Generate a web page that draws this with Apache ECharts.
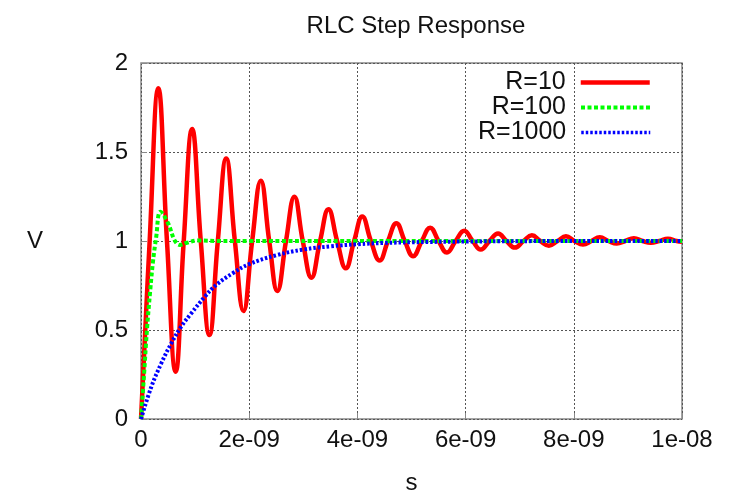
<!DOCTYPE html>
<html>
<head>
<meta charset="utf-8">
<script src="https://cdn.jsdelivr.net/npm/echarts@6/dist/echarts.min.js"></script>
<style>
html, body { margin: 0; padding: 0; background: #fff; }
#main { width: 736px; height: 492px; }
</style>
</head>
<body>
<div id="main"></div>
<script>
var seriesNames = ['R=10', 'R=100', 'R=1000'];
var yTicks = [0, 0.5, 1, 1.5, 2];

// time in ns, voltage in V
var r10_t = [0, 0.16, 0.32, 0.48, 0.64, 0.79, 0.945, 1.105, 1.265, 1.42, 1.575, 1.735, 1.895, 2.055, 2.215, 2.37, 2.52, 2.68, 2.835,
    2.99, 3.15, 3.31, 3.465, 3.625, 3.785, 3.94, 4.09, 4.25, 4.41, 4.565, 4.72, 4.875, 5.03, 5.19, 5.345, 5.5, 5.655, 5.815, 5.975,
    6.13, 6.28, 6.44, 6.6, 6.755, 6.91, 7.07, 7.225, 7.38, 7.54, 7.7, 7.855, 8.01, 8.17, 8.325, 8.48, 8.64, 8.795, 8.95, 9.11,
    9.27, 9.425, 9.58, 9.74, 9.9, 10];
var r10_v = [0, 1, 1.858, 1, 0.266, 1, 1.629, 1, 0.472, 1, 1.464, 1, 0.607, 1, 1.339, 1, 0.719, 1, 1.249,
    1, 0.794, 1, 1.178, 1, 0.847, 1, 1.137, 1, 0.89, 1, 1.10, 1, 0.915, 1, 1.075, 1, 0.935, 1, 1.058,
    1, 0.952, 1, 1.042, 1, 0.963, 1, 1.032, 1, 0.974, 1, 1.026, 1, 0.98, 1, 1.021, 1, 0.986, 1, 1.016,
    1, 0.99, 1, 1.013, 1, 0.996];

var r100_t = [0, 0.05, 0.11, 0.17, 0.22, 0.28, 0.36, 0.5, 0.62, 0.715, 0.85, 1.05, 1.4, 2, 4, 6, 8, 10];
var r100_v = [0, 0.22, 0.5, 0.72, 0.88, 1.02, 1.165, 1.10, 1.005, 0.978, 0.99, 1.003, 1.0, 1.0, 1.0, 1.0, 1.0, 1.0];

var r1000_t = [0, 0.19, 0.375, 0.56, 0.745, 0.93, 1.18, 1.39, 1.7, 2.0, 2.5, 3.0, 3.5, 4.0, 4.5, 5, 6, 7, 8, 10];
var r1000_v = [0, 0.18, 0.313, 0.425, 0.52, 0.594, 0.687, 0.753, 0.82, 0.87, 0.92, 0.952, 0.97, 0.982, 0.989, 0.993, 0.997, 0.999, 1.0, 1.0];

function pairs(t, v) {
    return t.map(function (x, i) { return [x, v[i]]; });
}

function sciLabel(ns) {
    if (ns === 0) return '0';
    var s = (ns * 1e-9).toExponential(0);   // e.g. "2e-9"
    var parts = s.split('e');
    var exp = parseInt(parts[1], 10);
    var sign = exp < 0 ? '-' : '+';
    var abs = Math.abs(exp);
    return parts[0] + 'e' + sign + (abs < 10 ? '0' + abs : abs);
}

var font = '"Liberation Sans", Arial, Helvetica, sans-serif';
var gridLine = { show: true, lineStyle: { color: '#555', type: [2, 2], width: 1 } };
var legendWidths = [4.5, 4, 3.5];
var legendDash = ['solid', [4, 2.5], [2.5, 2]];

var myChart = echarts.init(document.getElementById('main'));

var option = {
    backgroundColor: '#fff',
    animation: false,
    textStyle: { fontFamily: font },
    title: {
        text: 'RLC Step Response',
        left: 411,
        top: 9,
        textAlign: 'center',
        textStyle: { fontSize: 24, fontWeight: 'normal', color: '#111', fontFamily: font }
    },
    legend: seriesNames.map(function (n, i) {
        return {
            data: [n],
            orient: 'vertical',
            align: 'right',
            right: 84,
            top: 70 + i * 25,
            padding: 0,
            itemWidth: 69,
            itemHeight: 12,
            selectedMode: false,
            itemStyle: { opacity: 0 },
            lineStyle: { width: legendWidths[i], type: legendDash[i] },
            textStyle: { fontSize: 25, color: '#111', fontFamily: font, padding: [0, 10, 0, 0] }
        };
    }),
    grid: {
        left: 141,
        right: 54,
        top: 63,
        bottom: 73,
        outerBoundsMode: 'none',
        containLabel: false,
        show: true,
        borderColor: '#888',
        borderWidth: 1.5
    },
    xAxis: {
        type: 'value',
        min: 0,
        max: 10,
        interval: 2,
        name: 's',
        nameLocation: 'middle',
        nameGap: 52,
        nameTextStyle: { fontSize: 24, color: '#111', fontFamily: font },
        axisLine: { show: false },
        axisTick: { show: true, inside: true, length: 6, lineStyle: { color: '#888' } },
        axisLabel: { fontSize: 24, color: '#111', margin: 9, formatter: sciLabel },
        splitLine: gridLine
    },
    yAxis: {
        type: 'value',
        min: yTicks[0],
        max: yTicks[yTicks.length - 1],
        interval: 0.5,
        name: 'V',
        nameLocation: 'middle',
        nameRotate: 0,
        nameGap: 98,
        nameTextStyle: { fontSize: 24, color: '#111', fontFamily: font },
        axisLine: { show: false },
        axisTick: { show: true, inside: true, length: 6, lineStyle: { color: '#888' } },
        axisLabel: { fontSize: 24, color: '#111', margin: 13 },
        splitLine: gridLine
    },
    series: [
        {
            name: seriesNames[0],
            type: 'line',
            data: pairs(r10_t, r10_v),
            smooth: 0.45,
            symbol: 'none',
            color: '#ff0000',
            lineStyle: { color: '#ff0000', width: 4.5 }
        },
        {
            name: seriesNames[1],
            type: 'line',
            data: pairs(r100_t, r100_v),
            smooth: 0.4,
            symbol: 'none',
            color: '#00ff00',
            lineStyle: { color: '#00ff00', width: 4, type: [4, 2.5] }
        },
        {
            name: seriesNames[2],
            type: 'line',
            data: pairs(r1000_t, r1000_v),
            smooth: 0.4,
            symbol: 'none',
            color: '#0000ff',
            lineStyle: { color: '#0000ff', width: 4, type: [2.5, 2] }
        }
    ]
};

myChart.setOption(option);
</script>
</body>
</html>
